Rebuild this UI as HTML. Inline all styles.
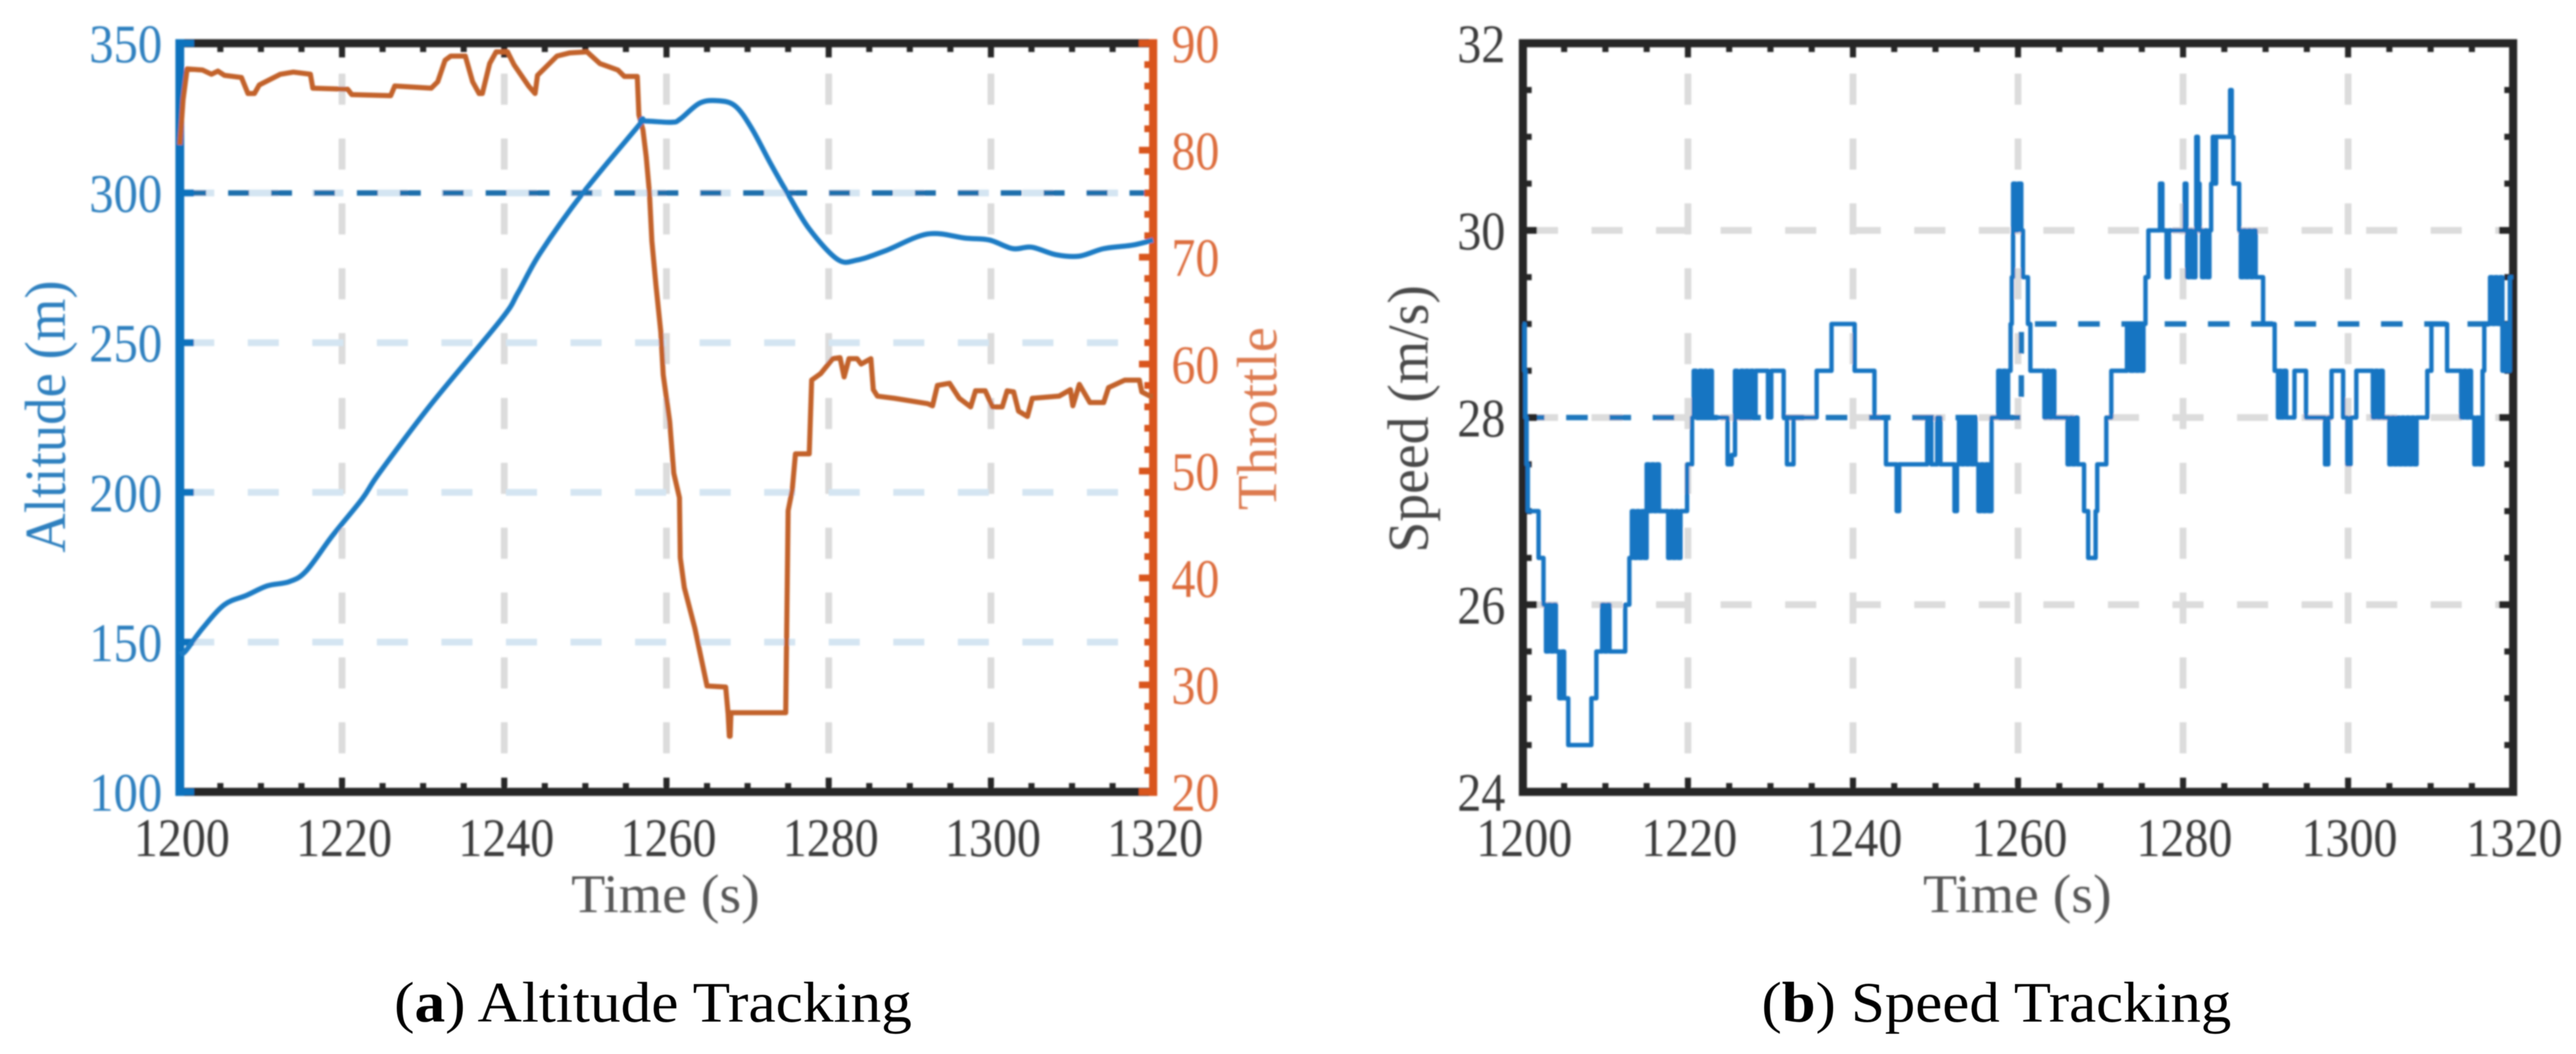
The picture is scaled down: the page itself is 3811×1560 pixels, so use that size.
<!DOCTYPE html>
<html lang="en">
<head>
<meta charset="utf-8">
<title>Altitude and Speed Tracking</title>
<style>
  html, body { margin: 0; padding: 0; background: #fff; }
  svg { display: block; font-family: "Liberation Serif", serif; }
</style>
</head>
<body>
<svg id="figure" xmlns="http://www.w3.org/2000/svg" width="3811" height="1560" viewBox="0 0 3811 1560">
  <defs>
    <filter id="soft" x="-2%" y="-2%" width="104%" height="104%"><feGaussianBlur stdDeviation="1.3"/></filter>
    <filter id="softer" x="-2%" y="-2%" width="104%" height="104%"><feGaussianBlur stdDeviation="0.6"/></filter>
  </defs>
  <rect width="3811" height="1560" fill="#ffffff"/>
  <g id="panelA" filter="url(#soft)"></g>
  <g id="panelB" filter="url(#soft)"></g>
  <text x="583" y="1512" font-size="85" fill="#000" filter="url(#softer)" textLength="766" lengthAdjust="spacingAndGlyphs">(<tspan font-weight="bold">a</tspan>) Altitude Tracking</text>
  <text x="2606" y="1512" font-size="85" fill="#000" filter="url(#softer)" textLength="695" lengthAdjust="spacingAndGlyphs">(<tspan font-weight="bold">b</tspan>) Speed Tracking</text>
</svg>
<script>
// ---- Panel (a) data ----
const xTickLabels = [1200, 1220, 1240, 1260, 1280, 1300, 1320];
const xMinorTicks = [1205, 1210, 1215, 1225, 1230, 1235, 1245, 1250, 1255, 1265, 1270, 1275, 1285, 1290, 1295, 1305, 1310, 1315];
const altitudeTicks = [100, 150, 200, 250, 300, 350];
const altitudeGridValues = [150, 200, 250, 300];
const throttleTicks = [20, 30, 40, 50, 60, 70, 80, 90];
const throttleMinorTicks = [22, 24, 26, 28, 32, 34, 36, 38, 42, 44, 46, 48, 52, 54, 56, 58, 62, 64, 66, 68, 72, 74, 76, 78, 82, 84, 86, 88];
const altitudeSetpoint = [300];
const altitudeTimes = [1200, 1200.7, 1202.8, 1205.5, 1208.2, 1210.8, 1213.5, 1215.6, 1218.8, 1222.5, 1224.6, 1231, 1239.6, 1241.7, 1244.4, 1249.7, 1256.6, 1257, 1260.6, 1261.7, 1264.1, 1266.4, 1268.5, 1270.5, 1272.8, 1274.9, 1277.6, 1281.1, 1283.5, 1287, 1292.2, 1296.9, 1299.8, 1302.7, 1305, 1308, 1310.9, 1313.9, 1317.5, 1320];
const altitudeValues = [146, 147, 154.6, 162.5, 165.6, 168.8, 170.2, 173.8, 185.5, 197.9, 206.5, 229.5, 257.7, 266.7, 279.8, 300, 322.6, 324, 323.6, 324.7, 330, 330.8, 329, 321.6, 310, 300, 288, 277.8, 277.6, 280.7, 286.3, 284.9, 284.3, 281.4, 281.9, 279.4, 278.9, 281.4, 282.6, 284.3];
const throttleTimes = [1200, 1200.2, 1200.4, 1200.9, 1202.8, 1203.9, 1204.7, 1205.5, 1207.6, 1208.4, 1209.2, 1209.8, 1212.4, 1214, 1216.1, 1216.4, 1220.7, 1221.2, 1226, 1226.5, 1231, 1231.8, 1232.7, 1233.4, 1235.2, 1236.1, 1236.9, 1237.3, 1238.2, 1239, 1240.4, 1241.2, 1243, 1243.8, 1244.1, 1246.5, 1248.1, 1250.2, 1251.8, 1254, 1254.8, 1256.4, 1256.6, 1257.1, 1257.5, 1257.9, 1258.2, 1258.7, 1259.3, 1259.6, 1260.4, 1260.9, 1261.6, 1261.7, 1262.2, 1263.5, 1265, 1267.3, 1267.6, 1267.75, 1267.85, 1267.95, 1274.7, 1275, 1275.5, 1275.9, 1277.6, 1277.9, 1279, 1280.5, 1281.4, 1281.9, 1282.5, 1283.5, 1284, 1285.2, 1285.5, 1286, 1288.1, 1292.2, 1292.8, 1293.4, 1294.9, 1296.1, 1297.5, 1298.1, 1299.3, 1300.2, 1301.4, 1302, 1302.8, 1303.4, 1304.5, 1305.1, 1308.4, 1309.8, 1310.1, 1310.9, 1312.2, 1313.9, 1314.5, 1316.5, 1318.3, 1318.6, 1319.6, 1320];
const throttleValues = [80.5, 82.5, 84.7, 87.6, 87.5, 87.1, 87.4, 87, 86.8, 85.3, 85.3, 86.1, 87.1, 87.3, 87.1, 85.8, 85.7, 85.2, 85.1, 86, 85.8, 86.4, 88.4, 88.8, 88.8, 86.4, 85.3, 85.3, 88.1, 89.2, 89.2, 88, 86, 85.3, 87, 88.8, 89.1, 89.2, 88.1, 87.5, 86.9, 86.9, 83.3, 81.9, 79.4, 76, 71.5, 67.4, 63, 59, 54.6, 49.8, 47.5, 41.9, 39.1, 35.3, 29.9, 29.8, 27.3, 25.2, 25.2, 27.4, 27.4, 46.3, 48.2, 51.6, 51.6, 58.5, 59.1, 60.5, 60.6, 58.8, 60.5, 60.5, 60, 60.5, 57.6, 57, 56.8, 56.3, 56.1, 58, 58.2, 56.8, 56, 57.5, 57.5, 56, 56, 57.5, 57.4, 55.6, 55.1, 56.8, 57, 57.6, 56.1, 58.1, 56.4, 56.4, 57.8, 58.5, 58.5, 57.4, 57, 57];

// ---- Panel (b) data ----
const speedTicks = [24, 26, 28, 30, 32];
const speedMinorTicks = [24.5, 25, 25.5, 26.5, 27, 27.5, 28.5, 29, 29.5, 30.5, 31, 31.5];
const speedGridValues = [26, 28, 30];
const setpointTimes = [1200, 1260.4, 1260.4, 1320];
const setpointValues = [28, 28, 29, 29];
const speedTimes = [
  1200, 1200.2, 1200.3, 1200.45, 1200.6, 1201.9, 1202.5, 1202.8, 1203.1, 1203.4, 1203.7, 1204, 1204.4, 1204.7, 1205, 1205.5, 1208.3, 1208.9,
  1209.6, 1209.9, 1210.2, 1210.5, 1212.4, 1212.9, 1213.2, 1213.5, 1213.8, 1214.1, 1214.4, 1214.7, 1215, 1215.3, 1215.6, 1215.9, 1216.2, 1216.5,
  1217.6, 1217.9, 1218.2, 1218.5, 1218.8, 1219.1, 1219.9, 1220.5, 1220.7, 1221, 1221.4, 1221.7, 1222, 1222.3, 1222.6, 1222.9,
  1224.8, 1225.3, 1225.7, 1226, 1226.4, 1226.7, 1227, 1227.3, 1227.6, 1227.9, 1228.2, 1229.7, 1230.1, 1231.6, 1232, 1232.8, 1235.6, 1237.4, 1240.2, 1242.6, 1244,
  1245.3, 1245.6, 1249, 1249.5, 1250.2, 1250.6, 1252.3, 1252.6, 1252.85, 1253.15, 1253.45, 1253.75, 1254.05, 1254.35, 1254.6, 1254.85,
  1255.2, 1255.5, 1255.8, 1256.1, 1256.4, 1256.8, 1257.6, 1257.9, 1258.2, 1258.5, 1258.8, 1259.1, 1259.25, 1259.4,
  1259.7, 1260, 1260.4, 1260.6, 1261.2, 1261.5, 1263.2, 1263.5, 1263.8, 1264.1, 1264.4, 1266, 1266.3, 1266.6, 1266.9, 1267.2,
  1268, 1268.5, 1269.4, 1269.6, 1270.7, 1271.3, 1273.2, 1273.6, 1274, 1274.3, 1274.6, 1274.9, 1275.2, 1275.45, 1275.8,
  1277.2, 1277.5, 1278, 1278.3, 1280.2, 1280.4, 1280.5, 1280.8, 1281.1, 1281.5, 1281.6, 1281.8, 1282, 1282.3, 1282.6, 1282.9, 1283.2, 1283.4, 1283.6, 1283.8, 1284,
  1285.7, 1285.9, 1286.1, 1286.8, 1287, 1287.3, 1287.6, 1287.9, 1288.2, 1288.5, 1288.8, 1289.7, 1291.1, 1291.5, 1291.7, 1291.9, 1292.2, 1292.5, 1293.5, 1294.9, 1297.2, 1297.6, 1298, 1299.4, 1299.9, 1300.3, 1301,
  1303, 1303.3, 1303.6, 1303.9, 1304.2, 1305, 1305.3, 1305.6, 1305.9, 1306.2, 1306.5, 1306.8, 1307.1, 1307.4, 1307.7, 1308, 1308.3, 1309.6, 1310.1, 1312, 1313.7, 1314, 1314.3, 1314.6, 1314.9, 1315.3, 1315.6, 1315.9, 1316.3, 1316.5,
  1317.2, 1317.5, 1317.8, 1318.1, 1318.4, 1318.7, 1319, 1319.3, 1319.6, 1320
];
const speedValues = [
  29, 28.5, 28, 27.5, 27, 26.5, 26, 25.5, 26, 25.5, 26, 25.5, 25, 25.5, 25, 24.5, 25, 25.5,
  26, 25.5, 26, 25.5, 26, 26.5, 27, 26.5, 27, 26.5, 27, 26.5, 27.5, 27, 27.5, 27, 27.5, 27,
  26.5, 27, 26.5, 27, 26.5, 27, 27.5, 28, 28.5, 28, 28.5, 28, 28.5, 28, 28.5, 28,
  27.5, 27.6, 28.5, 28, 28.5, 28, 28.5, 28, 28.5, 28, 28.5, 28, 28.5, 28, 27.5, 28, 28.5, 29, 28.5, 28, 27.5,
  27, 27.5, 28, 27.5, 28, 27.5, 27, 27.5, 28, 27.5, 28, 27.5, 28, 27.5, 28, 27.5,
  27, 27.5, 27, 27.5, 27, 28, 28.5, 28, 28.5, 28, 28.5, 29, 29.5, 30.5,
  30, 30.5, 30, 29.5, 29, 28.5, 28, 28.5, 28, 28.5, 28, 27.5, 28, 27.5, 28, 27.5,
  27, 26.5, 27, 27.5, 28, 28.5, 29, 28.5, 29, 28.5, 29, 28.5, 29, 29.5, 30,
  30.5, 30, 29.5, 30, 30.5, 30, 29.5, 30, 29.5, 30, 31, 30.5, 30, 29.5, 30, 29.5, 30, 30.5, 31, 30.5, 31,
  31.5, 31, 30.5, 30, 29.5, 30, 29.5, 30, 29.5, 30, 29.5, 29, 28.5, 28, 28.5, 28, 28.5, 28, 28.5, 28, 27.5, 28, 28.5, 28, 27.5, 28, 28.5,
  28, 28.5, 28, 28.5, 28, 27.5, 28, 27.5, 28, 27.5, 28, 27.5, 28, 27.5, 28, 27.5, 28, 28.5, 29, 28.5, 28, 28.5, 28, 28.5, 28, 27.5, 28, 27.5, 28.5, 29,
  29.5, 29, 29.5, 29, 29.5, 28.5, 29, 28.5, 29.5, 29.5
];

// ---- Axis functions ----
const xA = t => 266 + (t - 1200) * (1706 - 266) / 120;
const yAlt = v => 1172 - (v - 100) * (1172 - 64) / 250;
const yThr = v => 1172 - (v - 20) * (1172 - 64) / 70;
const xB = t => 2253 + (t - 1200) * (3718 - 2253) / 120;
const ySpd = v => 1172 - (v - 24) * (1172 - 64) / 8;

const NS = 'http://www.w3.org/2000/svg';
const panelA = document.getElementById('panelA');
const panelB = document.getElementById('panelB');

function make(parent, tag, props, content) {
  const node = document.createElementNS(NS, tag);
  Object.keys(props).forEach(k => node.setAttribute(k, props[k]));
  if (content !== undefined) node.textContent = content;
  parent.appendChild(node);
  return node;
}
function linePath(xs, ys, fx, fy) {
  return xs.map((t, i) => (i ? 'L' : 'M') + fx(t).toFixed(1) + ' ' + fy(ys[i]).toFixed(1)).join('');
}
function smoothPath(xs, ys, fx, fy) {
  const px = xs.map(fx);
  const py = ys.map(fy);
  let d = 'M' + px[0].toFixed(1) + ' ' + py[0].toFixed(1);
  for (let i = 0; i < px.length - 1; i++) {
    const a = Math.max(i - 1, 0);
    const b = Math.min(i + 2, px.length - 1);
    const c1x = px[i] + (px[i + 1] - px[a]) / 6;
    const c1y = py[i] + (py[i + 1] - py[a]) / 6;
    const c2x = px[i + 1] - (px[b] - px[i]) / 6;
    const c2y = py[i + 1] - (py[b] - py[i]) / 6;
    d += 'C' + c1x.toFixed(1) + ' ' + c1y.toFixed(1) + ' ' + c2x.toFixed(1) + ' ' + c2y.toFixed(1) + ' ' + px[i + 1].toFixed(1) + ' ' + py[i + 1].toFixed(1);
  }
  return d;
}
function stepPath(xs, ys, fx, fy) {
  let d = 'M' + fx(xs[0]).toFixed(1) + ' ' + fy(ys[0]).toFixed(1);
  for (let i = 1; i < xs.length; i++) {
    d += 'H' + fx(xs[i]).toFixed(1) + 'V' + fy(ys[i]).toFixed(1);
  }
  return d;
}

// ---- Panel (a): grid ----
xTickLabels.slice(1, -1).forEach(t => {
  const el = make(panelA, 'line', { x1: xA(t), x2: xA(t), y1: 109, y2: 1172, stroke: '#dcdcdc', 'stroke-width': 10, 'stroke-dasharray': '46 50' });
  
  
});
altitudeGridValues.forEach(v => {
  const el = make(panelA, 'line', { x1: 271, x2: 1698, y1: yAlt(v), y2: yAlt(v), stroke: '#d4e5f2', 'stroke-width': 10, 'stroke-dasharray': '46 49.5' });
  
  
});
altitudeSetpoint.forEach(v => {
  const el = make(panelA, 'line', { x1: xA(1200) + 8, x2: xA(1320) - 6, y1: yAlt(v), y2: yAlt(v), stroke: '#1a6eab', 'stroke-width': 8, 'stroke-dasharray': '31 32.5' });
  
  
});

// ---- Panel (a): frame ----
const topA = make(panelA, 'line', { x1: 266, x2: 1706, y1: 64, y2: 64, stroke: '#262626', 'stroke-width': 12 });


const botA = make(panelA, 'line', { x1: 266, x2: 1706, y1: 1172, y2: 1172, stroke: '#262626', 'stroke-width': 12 });



xTickLabels.slice(1, -1).forEach(t => {
  const a = make(panelA, 'line', { x1: xA(t), x2: xA(t), y1: 64, y2: 85, stroke: '#262626', 'stroke-width': 9 });
  
  
  const b = make(panelA, 'line', { x1: xA(t), x2: xA(t), y1: 1172, y2: 1151, stroke: '#262626', 'stroke-width': 9 });
  
  
});
xMinorTicks.forEach(t => {
  const a = make(panelA, 'line', { x1: xA(t), x2: xA(t), y1: 64, y2: 77, stroke: '#262626', 'stroke-width': 9 });
  
  
  const b = make(panelA, 'line', { x1: xA(t), x2: xA(t), y1: 1172, y2: 1159, stroke: '#262626', 'stroke-width': 9 });
  
  
});

const leftA = make(panelA, 'line', { x1: 266, x2: 266, y1: 58, y2: 1178, stroke: '#0b72bd', 'stroke-width': 13 });


const rightA = make(panelA, 'line', { x1: 1706, x2: 1706, y1: 58, y2: 1178, stroke: '#d9541e', 'stroke-width': 12 });



altitudeTicks.forEach(v => {
  const tick = make(panelA, 'line', { x1: 266, x2: 287, y1: yAlt(v), y2: yAlt(v), stroke: '#0b72bd', 'stroke-width': 10 });
  
  
  const label = make(panelA, 'text', { x: 240, y: yAlt(v) + 28, 'text-anchor': 'end', 'font-size': 81, fill: '#2d80bf', textLength: 108, lengthAdjust: 'spacingAndGlyphs' }, String(v));
  
  
});
throttleTicks.forEach(v => {
  const tick = make(panelA, 'line', { x1: 1706, x2: 1685, y1: yThr(v), y2: yThr(v), stroke: '#d9541e', 'stroke-width': 10 });
  
  
  const label = make(panelA, 'text', { x: 1733, y: yThr(v) + 28, 'font-size': 81, fill: '#dd6d3e', textLength: 71, lengthAdjust: 'spacingAndGlyphs' }, String(v));
  
  
});
throttleMinorTicks.forEach(v => {
  const tick = make(panelA, 'line', { x1: 1706, x2: 1693, y1: yThr(v), y2: yThr(v), stroke: '#d9541e', 'stroke-width': 10 });
  
  
});
xTickLabels.forEach(t => {
  const label = make(panelA, 'text', { x: xA(t) + 3, y: 1267, 'text-anchor': 'middle', 'font-size': 81, fill: '#3a3a3a', textLength: 142, lengthAdjust: 'spacingAndGlyphs' }, String(t));
  
  
});

// ---- Panel (a): series ----
const throttleLine = make(panelA, 'path', { d: linePath(throttleTimes, throttleValues, xA, yThr), fill: 'none', stroke: '#c2622a', 'stroke-width': 7.5, 'stroke-linejoin': 'round' });


const altitudeLine = make(panelA, 'path', { d: smoothPath(altitudeTimes, altitudeValues, xA, yAlt), fill: 'none', stroke: '#1b7cc4', 'stroke-width': 7.5, 'stroke-linejoin': 'round' });



// ---- Panel (a): titles ----
const altTitle = make(panelA, 'text', { transform: 'translate(96 818) rotate(-90)', 'font-size': 86, fill: '#2d80bf', textLength: 403, lengthAdjust: 'spacingAndGlyphs' }, 'Altitude (m)');


const thrTitle = make(panelA, 'text', { transform: 'translate(1888 755) rotate(-90)', 'font-size': 84, fill: '#dd7a50', textLength: 271, lengthAdjust: 'spacingAndGlyphs' }, 'Throttle');


const timeA = make(panelA, 'text', { x: 845, y: 1350, 'font-size': 80, fill: '#565656', textLength: 279, lengthAdjust: 'spacingAndGlyphs' }, 'Time (s)');



// ---- Panel (b): grid ----
xTickLabels.slice(1, -1).forEach(t => {
  const el = make(panelB, 'line', { x1: xB(t), x2: xB(t), y1: 109, y2: 1172, stroke: '#dcdcdc', 'stroke-width': 10, 'stroke-dasharray': '46 50' });
  
  
});
speedGridValues.forEach(v => {
  const el = make(panelB, 'line', { x1: 2259, x2: 3712, y1: ySpd(v), y2: ySpd(v), stroke: '#dcdcdc', 'stroke-width': 10, 'stroke-dasharray': '46 49.5' });
  
  
});
const setpointLine = make(panelB, 'path', { d: linePath(setpointTimes, setpointValues, xB, ySpd), fill: 'none', stroke: '#1c77bd', 'stroke-width': 8, 'stroke-dasharray': '32 32' });



// ---- Panel (b): frame ----
const frameB = make(panelB, 'rect', { x: 2253, y: 64, width: 3718 - 2253, height: 1172 - 64, fill: 'none', stroke: '#262626', 'stroke-width': 12 });



xTickLabels.slice(1, -1).forEach(t => {
  const a = make(panelB, 'line', { x1: xB(t), x2: xB(t), y1: 64, y2: 85, stroke: '#262626', 'stroke-width': 9 });
  
  
  const b = make(panelB, 'line', { x1: xB(t), x2: xB(t), y1: 1172, y2: 1151, stroke: '#262626', 'stroke-width': 9 });
  
  
});
xMinorTicks.forEach(t => {
  const a = make(panelB, 'line', { x1: xB(t), x2: xB(t), y1: 64, y2: 77, stroke: '#262626', 'stroke-width': 9 });
  
  
  const b = make(panelB, 'line', { x1: xB(t), x2: xB(t), y1: 1172, y2: 1159, stroke: '#262626', 'stroke-width': 9 });
  
  
});
speedTicks.forEach(v => {
  const a = make(panelB, 'line', { x1: 2253, x2: 2274, y1: ySpd(v), y2: ySpd(v), stroke: '#262626', 'stroke-width': 10 });
  
  
  const b = make(panelB, 'line', { x1: 3718, x2: 3697, y1: ySpd(v), y2: ySpd(v), stroke: '#262626', 'stroke-width': 10 });
  
  
  const label = make(panelB, 'text', { x: 2227, y: ySpd(v) + 28, 'text-anchor': 'end', 'font-size': 81, fill: '#3a3a3a', textLength: 71, lengthAdjust: 'spacingAndGlyphs' }, String(v));
  
  
});
speedMinorTicks.forEach(v => {
  const a = make(panelB, 'line', { x1: 2253, x2: 2266, y1: ySpd(v), y2: ySpd(v), stroke: '#262626', 'stroke-width': 9 });
  
  
  const b = make(panelB, 'line', { x1: 3718, x2: 3705, y1: ySpd(v), y2: ySpd(v), stroke: '#262626', 'stroke-width': 9 });
  
  
});
xTickLabels.forEach(t => {
  const label = make(panelB, 'text', { x: xB(t) + 2, y: 1267, 'text-anchor': 'middle', 'font-size': 81, fill: '#3a3a3a', textLength: 142, lengthAdjust: 'spacingAndGlyphs' }, String(t));
  
  
});

// ---- Panel (b): series ----
const speedLine = make(panelB, 'path', { d: stepPath(speedTimes, speedValues, xB, ySpd), fill: 'none', stroke: '#1474c2', 'stroke-width': 6.5, 'stroke-linejoin': 'round' });



// ---- Panel (b): titles ----
const spdTitle = make(panelB, 'text', { transform: 'translate(2112 818) rotate(-90)', 'font-size': 86, fill: '#4a4a4a', textLength: 396, lengthAdjust: 'spacingAndGlyphs' }, 'Speed (m/s)');


const timeB = make(panelB, 'text', { x: 2845, y: 1350, 'font-size': 80, fill: '#565656', textLength: 279, lengthAdjust: 'spacingAndGlyphs' }, 'Time (s)');


</script>
</body>
</html>
